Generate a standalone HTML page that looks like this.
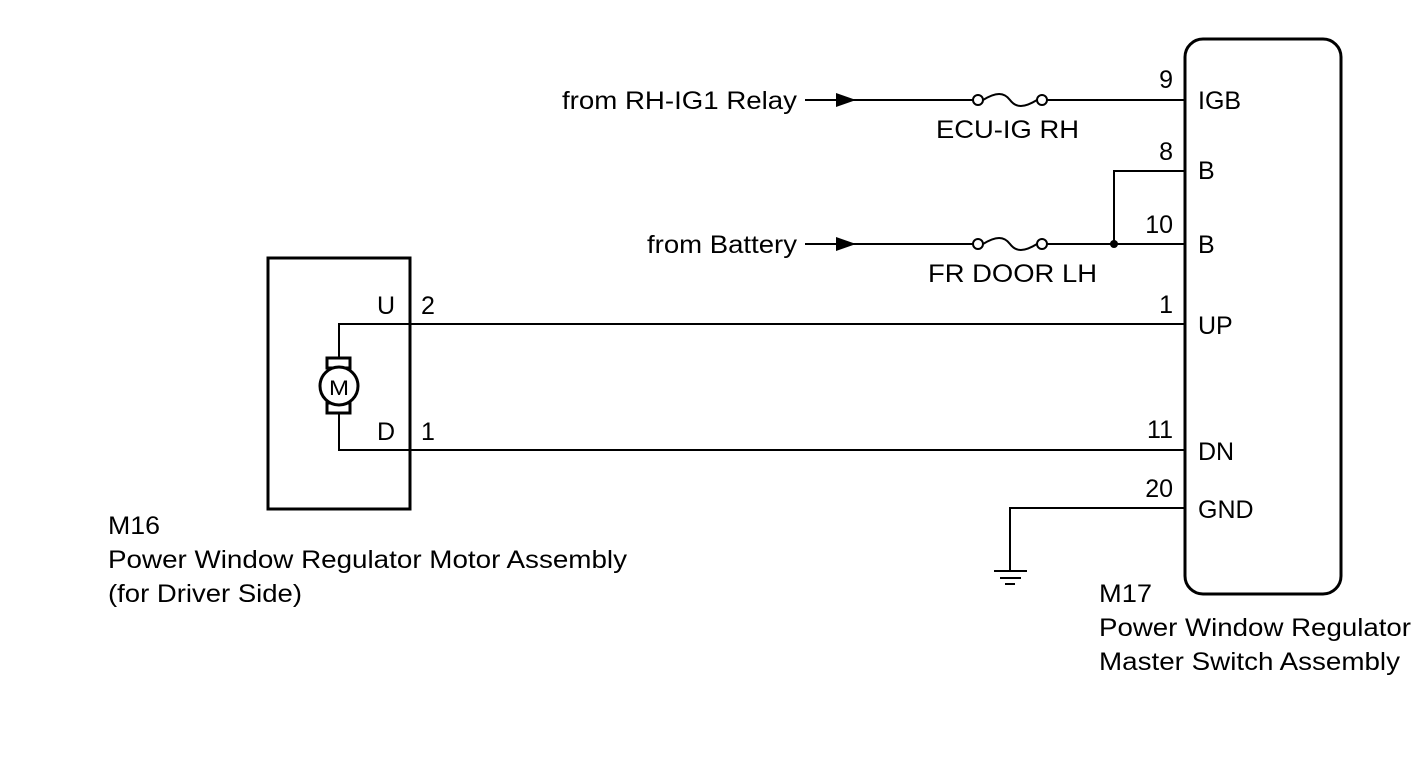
<!DOCTYPE html>
<html><head><style>
body{margin:0;background:#fff}
svg text{font-family:"Liberation Sans",Arial,Helvetica,sans-serif;font-size:25px;fill:#000}
</style></head><body>
<svg width="1424" height="759" xmlns="http://www.w3.org/2000/svg">
<g fill="none" stroke="#000" stroke-width="2">
<rect x="1185" y="39" width="156" height="555" rx="18" stroke-width="3"/>
<rect x="268" y="258" width="142" height="251" stroke-width="3"/>
<line x1="805" y1="100" x2="973" y2="100"/>
<line x1="1047" y1="100" x2="1185" y2="100"/>
<circle cx="978" cy="100" r="5"/><circle cx="1042" cy="100" r="5"/>
<path d="M983 100 C996 92,1004 92,1010 100 S1024 108,1037 100"/>
<line x1="805" y1="244" x2="973" y2="244"/>
<line x1="1047" y1="244" x2="1185" y2="244"/>
<circle cx="978" cy="244" r="5"/><circle cx="1042" cy="244" r="5"/>
<path d="M983 244 C996 236,1004 236,1010 244 S1024 252,1037 244"/>
<polyline points="1114,244 1114,171 1185,171"/>
<polyline points="339,358 339,324 1185,324"/>
<polyline points="339,413 339,450 1185,450"/>
<rect x="327" y="358" width="23" height="10" stroke-width="3"/>
<rect x="327" y="403" width="23" height="10" stroke-width="3"/>
<circle cx="339" cy="386" r="19" stroke-width="3" fill="#fff"/>
<polyline points="1185,508 1010,508 1010,571"/>
<line x1="994" y1="571" x2="1027" y2="571"/>
<line x1="1000" y1="578" x2="1021" y2="578"/>
<line x1="1005" y1="584" x2="1015" y2="584"/>
</g>
<polygon points="836,93 856,100 836,107" fill="#000"/>
<polygon points="836,237 856,244 836,251" fill="#000"/>
<circle cx="1114" cy="244" r="4" fill="#000"/>
<text x="329" y="395" style="font-size:21px" textLength="20" lengthAdjust="spacingAndGlyphs">M</text>
<text x="562" y="109" textLength="235" lengthAdjust="spacingAndGlyphs">from RH-IG1 Relay</text>
<text x="647" y="253" textLength="150" lengthAdjust="spacingAndGlyphs">from Battery</text>
<text x="936" y="138" textLength="143" lengthAdjust="spacingAndGlyphs">ECU-IG RH</text>
<text x="928" y="282" textLength="169" lengthAdjust="spacingAndGlyphs">FR DOOR LH</text>
<text x="1173" y="88" text-anchor="end">9</text>
<text x="1173" y="160" text-anchor="end">8</text>
<text x="1173" y="233" text-anchor="end">10</text>
<text x="1173" y="313" text-anchor="end">1</text>
<text x="1173" y="438" text-anchor="end">11</text>
<text x="1173" y="497" text-anchor="end">20</text>
<text x="1198" y="109">IGB</text>
<text x="1198" y="179">B</text>
<text x="1198" y="253">B</text>
<text x="1198" y="334">UP</text>
<text x="1198" y="460">DN</text>
<text x="1198" y="518">GND</text>
<text x="377" y="314">U</text>
<text x="421" y="314">2</text>
<text x="377" y="440">D</text>
<text x="421" y="440">1</text>
<text x="108" y="534" textLength="52" lengthAdjust="spacingAndGlyphs">M16</text>
<text x="108" y="568" textLength="519" lengthAdjust="spacingAndGlyphs">Power Window Regulator Motor Assembly</text>
<text x="108" y="602" textLength="194" lengthAdjust="spacingAndGlyphs">(for Driver Side)</text>
<text x="1099" y="602" textLength="53" lengthAdjust="spacingAndGlyphs">M17</text>
<text x="1099" y="636" textLength="312" lengthAdjust="spacingAndGlyphs">Power Window Regulator</text>
<text x="1099" y="670" textLength="301" lengthAdjust="spacingAndGlyphs">Master Switch Assembly</text>
</svg>
</body></html>
